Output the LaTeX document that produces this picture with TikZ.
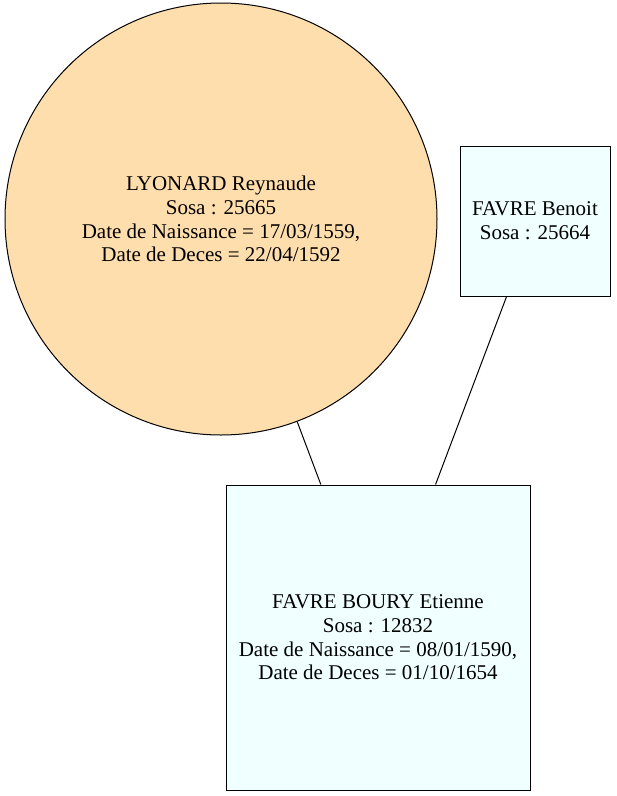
\documentclass[tikz,border=0pt]{standalone}
\usepackage{fontspec}
\setmainfont{Liberation Serif}
\usetikzlibrary{positioning}
\definecolor{mother}{HTML}{FFDEAD}
\definecolor{father}{HTML}{F0FFFF}

\begin{document}
\begin{tikzpicture}[x=1pt,y=-1pt,
  anc/.style={draw=black,line width=1pt,inner sep=0pt,align=center,
    font=\fontsize{21}{23.7}\selectfont},
  fem/.style={anc,circle,fill=mother,minimum size=432pt},
  man/.style={anc,rectangle,fill=father},
  ln/.style={line width=1pt,color=black}]
\useasboundingbox (0,0) rectangle (617,796);
\node[fem] (m) at (221,219) {LYONARD Reynaude\\Sosa : 25665\\Date de Naissance = 17/03/1559,\\Date de Deces = 22/04/1592};
\node[man,minimum width=150pt,minimum height=150pt] (f) at (535,221) {FAVRE Benoit\\Sosa : 25664};
\node[man,minimum width=304pt,minimum height=305pt] (c) at (378,637.5) {FAVRE BOURY Etienne\\Sosa : 12832\\Date de Naissance = 08/01/1590,\\Date de Deces = 01/10/1654};
\foreach \n in {m,f} \draw[ln] (\n) -- (c);
\end{tikzpicture}
\end{document}
